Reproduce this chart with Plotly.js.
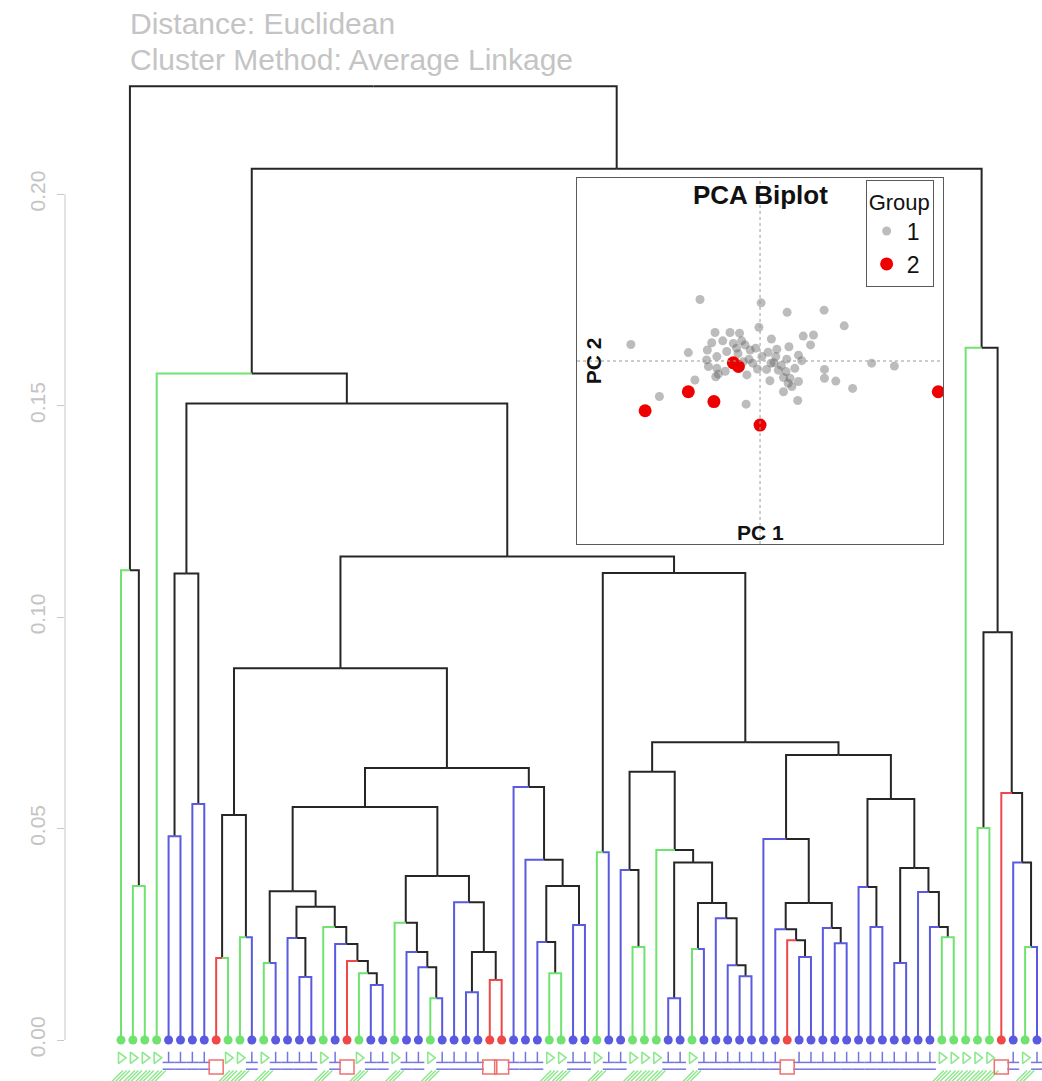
<!DOCTYPE html>
<html>
<head>
<meta charset="utf-8">
<script src="https://cdn.plot.ly/plotly-3.0.1.min.js"></script>
<style>
  html, body { margin: 0; padding: 0; background: #ffffff; }
  #chart { width: 1042px; height: 1081px; }
</style>
</head>
<body>
<div id="chart"></div>
<script>
// ---- Leaves (in plotting order) and their group colour code ----
const leafGroups = [
  "G","G","G","G","B","B","B","B","R","G",
  "G","B","G","B","B","B","B","G","B","R",
  "G","B","B","G","B","B","G","B","B","B",
  "B","R","R","B","B","B","G","G","B","B",
  "G","B","B","G","G","G","B","B","G","B",
  "B","B","B","B","B","B","R","B","B","B",
  "B","B","B","B","B","B","B","B","B","G",
  "G","G","G","G","R","B","G","B"
];

// ---- Average-linkage merge table (negative = leaf number, positive = earlier merge row) ----
const mergeLeft = [
  -2, -1, -5, -7, 3, -9, -11, 6, -13, -16,
  -15, -22, -21, -20, -19, -18, 11, 9, -27, -26,
  -25, -24, -30, -32, 23, -29, 22, 18, -37, -36,
  -39, 30, -35, -34, 28, 8, -41, -44, -43, -47,
  -49, -53, -52, -51, 41, 40, -46, 39, -58, -57,
  -56, -61, -60, 51, -55, -64, -63, -66, -70, -69,
  -68, 58, 57, 55, 48, 37, 36, 5, -4, -73,
  -77, -76, -75, 70, -72, 69, 2
];
const mergeRight = [
  -3, 1, -6, -8, 4, -10, -12, 7, -14, -17,
  10, -23, 12, 13, 14, 15, 16, 17, -28, 19,
  20, 21, -31, -33, 24, 25, 26, 27, -38, 29,
  -40, 31, 32, 33, 34, 35, -42, -45, 38, -48,
  -50, -54, 42, 43, 44, 45, 46, 47, -59, 49,
  50, -62, 52, 53, 54, -65, 56, -67, -71, 59,
  60, 61, 62, 63, 64, 65, 66, 67, 68, -74,
  -78, 71, 72, 73, 74, 75, 76
];
const mergeHeight = [
  0.0364, 0.1111, 0.0482, 0.0558, 0.1103, 0.0194, 0.0243, 0.0532, 0.0182, 0.0149,
  0.0241, 0.0130, 0.0158, 0.0187, 0.0227, 0.0267, 0.0315, 0.0352, 0.0099, 0.0172,
  0.0208, 0.0277, 0.0113, 0.0142, 0.0208, 0.0326, 0.0388, 0.0551, 0.0158, 0.0232,
  0.0272, 0.0364, 0.0426, 0.0598, 0.0643, 0.0879, 0.0444, 0.0220, 0.0402, 0.0099,
  0.0215, 0.0151, 0.0177, 0.0288, 0.0324, 0.0420, 0.0449, 0.0634, 0.0196, 0.0236,
  0.0262, 0.0229, 0.0265, 0.0324, 0.0475, 0.0267, 0.0362, 0.0182, 0.0243, 0.0267,
  0.0350, 0.0407, 0.0570, 0.0674, 0.0704, 0.1104, 0.1143, 0.1505, 0.1576, 0.0501,
  0.0220, 0.0420, 0.0584, 0.0964, 0.1637, 0.2060, 0.2255
];

// ---- Distance axis ----
const distTicks = [0, 0.05, 0.10, 0.15, 0.20];
const distTickText = ["0.00", "0.05", "0.10", "0.15", "0.20"];

// ---- PCA scores ----
const pc1Group1 = [
  -1.64, 0.03, 0.74, 1.75, 2.30, -3.53, -0.03, -1.23, -0.82, -0.56,
  0.31, 1.18, 1.46, 1.38, 0.79, 0.46, -1.32, -1.44, -1.96, -0.73,
  -0.41, -0.27, -0.64, -1.46, -1.18, -1.18, -1.14, -1.21, -1.78, -2.75,
  -0.36, -0.20, -0.07, 0.05, 0.18, 0.30, 0.38, 0.43, 0.50, 0.73,
  0.71, 0.82, 1.05, 1.14, 0.64, 0.77, 0.87, 1.05, 0.64, 1.03,
  -0.38, 0.27, 1.76, 1.76, 2.07, 2.53, 3.05, 3.67, -0.46, -0.91,
  -1.41, -0.60, -0.50, -0.95, -0.12, 0.22, 0.58, -1.02, -0.30, 0.95
];
const pc2Group1 = [
  1.68, 1.59, 1.33, 1.39, 0.96, 0.45, 0.92, 0.78, 0.78, 0.76,
  0.60, 0.68, 0.71, 0.44, 0.39, 0.32, 0.50, 0.30, 0.23, 0.48,
  0.44, 0.30, 0.35, 0.03, 0.12, -0.20, -0.36, -0.43, -0.52, -0.97,
  -0.38, -0.06, -0.22, 0.12, -0.23, -0.06, -0.05, 0.12, -0.25, 0.05,
  -0.29, -0.47, 0.16, 0.01, -0.45, -0.61, -0.70, -0.56, -0.84, -1.08,
  -1.18, -0.54, -0.23, -0.47, -0.55, -0.75, -0.06, -0.14, -0.02, 0.26,
  -0.15, 0.20, 0.55, -0.28, 0.35, 0.24, -0.12, 0.55, 0.05, -0.20
];
const pc1Group2 = [-0.73, -0.59, -1.96, -1.26, -3.14, 0.00, 4.87];
const pc2Group2 = [-0.05, -0.15, -0.84, -1.11, -1.36, -1.75, -0.84];
const groupNames = ["1", "2"];

// ---- Styling ----
const leafColour = { G: "#70e270", B: "#5a5ae0", R: "#ee4848" };
const labelColour = { G: "#8ee88e", B: "#7474e2", R: "#f07070" };
const innerColour = "#262626";
const font = "Liberation Sans, Arial, Helvetica, sans-serif";

// ---- Dendrogram geometry from the merge table ----
const nodeX = [], nodeH = [];
function child(c) {
  if (c < 0) return { x: -c, h: 0, col: leafColour[leafGroups[-c - 1]] };
  return { x: nodeX[c - 1], h: nodeH[c - 1], col: innerColour };
}
const paths = {};
function addPath(col, xs, ys) {
  if (!paths[col]) paths[col] = { x: [], y: [] };
  paths[col].x.push(...xs, null);
  paths[col].y.push(...ys, null);
}
for (let k = 0; k < mergeHeight.length; k++) {
  const L = child(mergeLeft[k]);
  const R = child(mergeRight[k]);
  const H = mergeHeight[k];
  const X = (L.x + R.x) / 2;
  nodeX[k] = X; nodeH[k] = H;
  addPath(L.col, [L.x, L.x, X], [L.h, H, H]);
  addPath(R.col, [R.x, R.x, X], [R.h, H, H]);
}

const traces = [];
[innerColour, leafColour.B, leafColour.G, leafColour.R].forEach(col => {
  if (!paths[col]) return;
  traces.push({
    type: "scatter", mode: "lines", x: paths[col].x, y: paths[col].y,
    line: { color: col, width: 2 }, hoverinfo: "skip", showlegend: false,
    xaxis: "x", yaxis: "y"
  });
});

// leaf points
const leafIdx = leafGroups.map((g, i) => i + 1);
traces.push({
  type: "scatter", mode: "markers", x: leafIdx, y: leafIdx.map(() => 0),
  marker: { size: 9, color: leafGroups.map(g => leafColour[g]) },
  hoverinfo: "skip", showlegend: false, cliponaxis: false
});

// leaf label glyph row beneath the points (cut by the lower edge)
function pick(code) { return leafIdx.filter(i => leafGroups[i - 1] === code); }
const blueIdx = pick("B"), greenIdx = pick("G"), redIdx = pick("R");
traces.push({
  type: "scatter", mode: "markers", x: blueIdx, y: blueIdx.map(() => -0.0041),
  marker: { symbol: "line-ns", size: 8, color: labelColour.B, line: { color: labelColour.B, width: 1.5 } },
  hoverinfo: "skip", showlegend: false
});
[-0.0053, -0.0069].forEach(lev => {
  const xs = [], ys = [];
  leafIdx.forEach(i => {
    if (leafGroups[i - 1] === "B") { xs.push(i - 0.5, i + 0.5, null); ys.push(lev, lev, null); }
  });
  traces.push({
    type: "scatter", mode: "lines", x: xs, y: ys,
    line: { color: labelColour.B, width: 1.5 }, hoverinfo: "skip", showlegend: false
  });
});
traces.push({
  type: "scatter", mode: "markers", x: greenIdx, y: greenIdx.map(() => -0.0042),
  marker: { symbol: "triangle-right-open", size: 10, color: labelColour.G, line: { color: labelColour.G, width: 1.6 } },
  hoverinfo: "skip", showlegend: false
});
traces.push({
  type: "scatter", mode: "markers",
  x: greenIdx.flatMap(i => [i - 0.3, i, i + 0.3]),
  y: greenIdx.flatMap(() => [-0.0085, -0.0085, -0.0085]),
  marker: { symbol: "line-ne", size: 11, color: labelColour.G, line: { color: labelColour.G, width: 1.5 } },
  hoverinfo: "skip", showlegend: false
});
traces.push({
  type: "scatter", mode: "markers", x: redIdx, y: redIdx.map(() => -0.0064),
  marker: { symbol: "square-open", size: 14, color: labelColour.R, line: { color: labelColour.R, width: 1.5 } },
  hoverinfo: "skip", showlegend: false
});

// PCA inset
traces.push({
  type: "scatter", mode: "markers", x: pc1Group1, y: pc2Group1, name: groupNames[0],
  marker: { size: 9, color: "rgba(95,95,95,0.42)" },
  xaxis: "x2", yaxis: "y2", hoverinfo: "skip", showlegend: true
});
traces.push({
  type: "scatter", mode: "markers", x: pc1Group2, y: pc2Group2, name: groupNames[1],
  marker: { size: 13, color: "#ee0000" },
  xaxis: "x2", yaxis: "y2", hoverinfo: "skip", showlegend: true
});

const layout = {
  width: 1042, height: 1081,
  margin: { l: 65, r: 0, t: 0, b: 0 },
  paper_bgcolor: "#ffffff", plot_bgcolor: "rgba(0,0,0,0)",
  font: { family: font },
  showlegend: true,
  xaxis: {
    domain: [0, 1], range: [-3.707, 78.42], visible: false, fixedrange: true
  },
  yaxis: {
    domain: [0, 1], range: [-0.00969, 0.2459],
    tickvals: distTicks, ticktext: distTickText,
    ticks: "outside", ticklen: 7, tickwidth: 1, tickcolor: "#c8c8c8",
    tickangle: -90, ticklabelstandoff: 4,
    tickfont: { size: 21, color: "#c4c4c4", family: font },
    showgrid: false, zeroline: false, showline: false, automargin: false
  },
  xaxis2: {
    domain: [0.5241, 0.8987], anchor: "y2", range: [-5, 5],
    showline: true, mirror: true, linecolor: "#5a5a5a", linewidth: 1.2,
    ticks: "", showticklabels: false, showgrid: false, zeroline: false
  },
  yaxis2: {
    domain: [0.4968, 0.8353], anchor: "x2", range: [-5, 5],
    showline: true, mirror: true, linecolor: "#5a5a5a", linewidth: 1.2,
    ticks: "", showticklabels: false, showgrid: false, zeroline: false
  },
  legend: {
    x: 0.8195, y: 0.8335, xanchor: "left", yanchor: "top",
    bgcolor: "#ffffff", bordercolor: "#5a5a5a", borderwidth: 1,
    font: { size: 23, color: "#111", family: font },
    title: { text: "Group", font: { size: 22, color: "#111", family: font } },
    itemwidth: 30, tracegroupgap: 0
  },
  shapes: [
    { type: "line", xref: "paper", yref: "y", x0: 0, x1: 0, y0: 0, y1: 0.2,
      line: { color: "#c8c8c8", width: 1 } },
    { type: "line", xref: "x2", yref: "y2 domain", x0: 0, x1: 0, y0: 0, y1: 1,
      line: { color: "#9a9a9a", width: 1, dash: "dot" } },
    { type: "line", xref: "x2 domain", yref: "y2", x0: 0, x1: 1, y0: 0, y1: 0,
      line: { color: "#9a9a9a", width: 1, dash: "dot" } }
  ],
  annotations: [
    { text: "Distance: Euclidean", xref: "paper", yref: "paper",
      x: 0.0645, y: 1 - 23 / 1081, xanchor: "left", yanchor: "middle", showarrow: false,
      font: { size: 30, color: "#c4c4c4", family: font } },
    { text: "Cluster Method: Average Linkage", xref: "paper", yref: "paper",
      x: 0.0645, y: 1 - 59 / 1081, xanchor: "left", yanchor: "middle", showarrow: false,
      font: { size: 30, color: "#c4c4c4", family: font } },
    { text: "<b>PCA Biplot</b>", xref: "x2 domain", yref: "y2 domain",
      x: 0.5, y: 0.955, xanchor: "center", yanchor: "middle", showarrow: false,
      font: { size: 26, color: "#111", family: font } },
    { text: "<b>PC 1</b>", xref: "x2 domain", yref: "y2 domain",
      x: 0.5, y: 0.03, xanchor: "center", yanchor: "middle", showarrow: false,
      font: { size: 21, color: "#111", family: font } },
    { text: "<b>PC 2</b>", xref: "x2 domain", yref: "y2 domain",
      x: 0.047, y: 0.5, xanchor: "center", yanchor: "middle", showarrow: false,
      textangle: -90, font: { size: 21, color: "#111", family: font } }
  ]
};

Plotly.newPlot("chart", traces, layout, { displayModeBar: false, staticPlot: true });
</script>
</body>
</html>
